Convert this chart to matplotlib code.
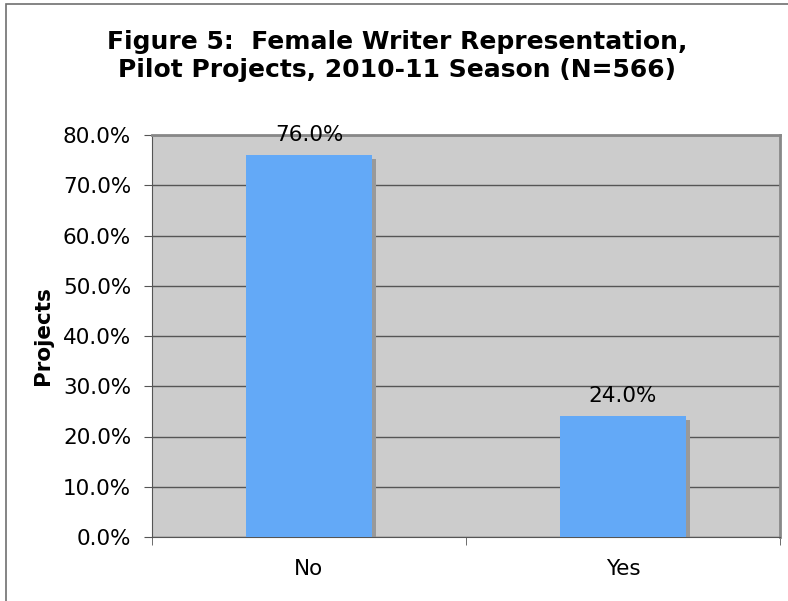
import numpy as np
import matplotlib.pyplot as plt
from matplotlib.patches import Rectangle

# Datos
categorias = ['No', 'Yes']
valores = [76.0, 24.0]
rotulos = ['76.0%', '24.0%']

fig = plt.figure(figsize=(7.88, 6.01), dpi=100)
ax = fig.add_axes([152/788, 1-537/601, 628/788, 402/601])

# borda da figura
fig.patches.append(Rectangle((6/788, -0.01), 1.0, 1-4/601+0.01, transform=fig.transFigure,
                             fill=False, edgecolor='#707070', linewidth=1.2))

ax.set_facecolor('#cccccc')
x = np.arange(len(categorias))
largura = 0.4

# sombra das barras
ax.bar(x + 0.013, valores, largura, bottom=-0.8, color='#999999', zorder=2)
ax.bar(x, valores, largura, color='#63a9f7', zorder=3)

for xi, v, r in zip(x, valores, rotulos):
    ax.text(xi, v + 2.0, r, ha='center', va='bottom', fontsize=15.5, zorder=4)

ax.set_xlim(-0.5, 1.5)
ax.set_ylim(0, 80)
ax.set_yticks(np.arange(0, 81, 10))
ax.set_yticklabels(['%.1f%%' % t for t in np.arange(0, 81, 10)], fontsize=15.5)
ax.yaxis.grid(True, color='#555555', linewidth=1.0, zorder=1)
ax.set_axisbelow(True)

ax.set_xticks(x)
ax.set_xticklabels(categorias, fontsize=15.5)
ax.tick_params(axis='x', length=0, pad=16)
ax.set_xticks([-0.5, 0.5, 1.5], minor=True)
ax.tick_params(axis='x', which='minor', length=6, color='#555555')
ax.tick_params(axis='y', length=6, color='#555555', pad=9)

for lado in ['top', 'right']:
    ax.spines[lado].set_color('#888888')
    ax.spines[lado].set_linewidth(2)
ax.spines['left'].set_color('#555555')
ax.spines['bottom'].set_color('#555555')

ax.set_ylabel('Projects', fontsize=15.5, fontweight='bold')
ax.yaxis.set_label_coords(-0.158, 0.5)

fig.text(397/788, 1-56/601, 'Figure 5:  Female Writer Representation,\nPilot Projects, 2010-11 Season (N=566)',
         ha='center', va='center', fontsize=18, fontweight='bold', linespacing=1.25)

plt.savefig('out.png', dpi=100)
